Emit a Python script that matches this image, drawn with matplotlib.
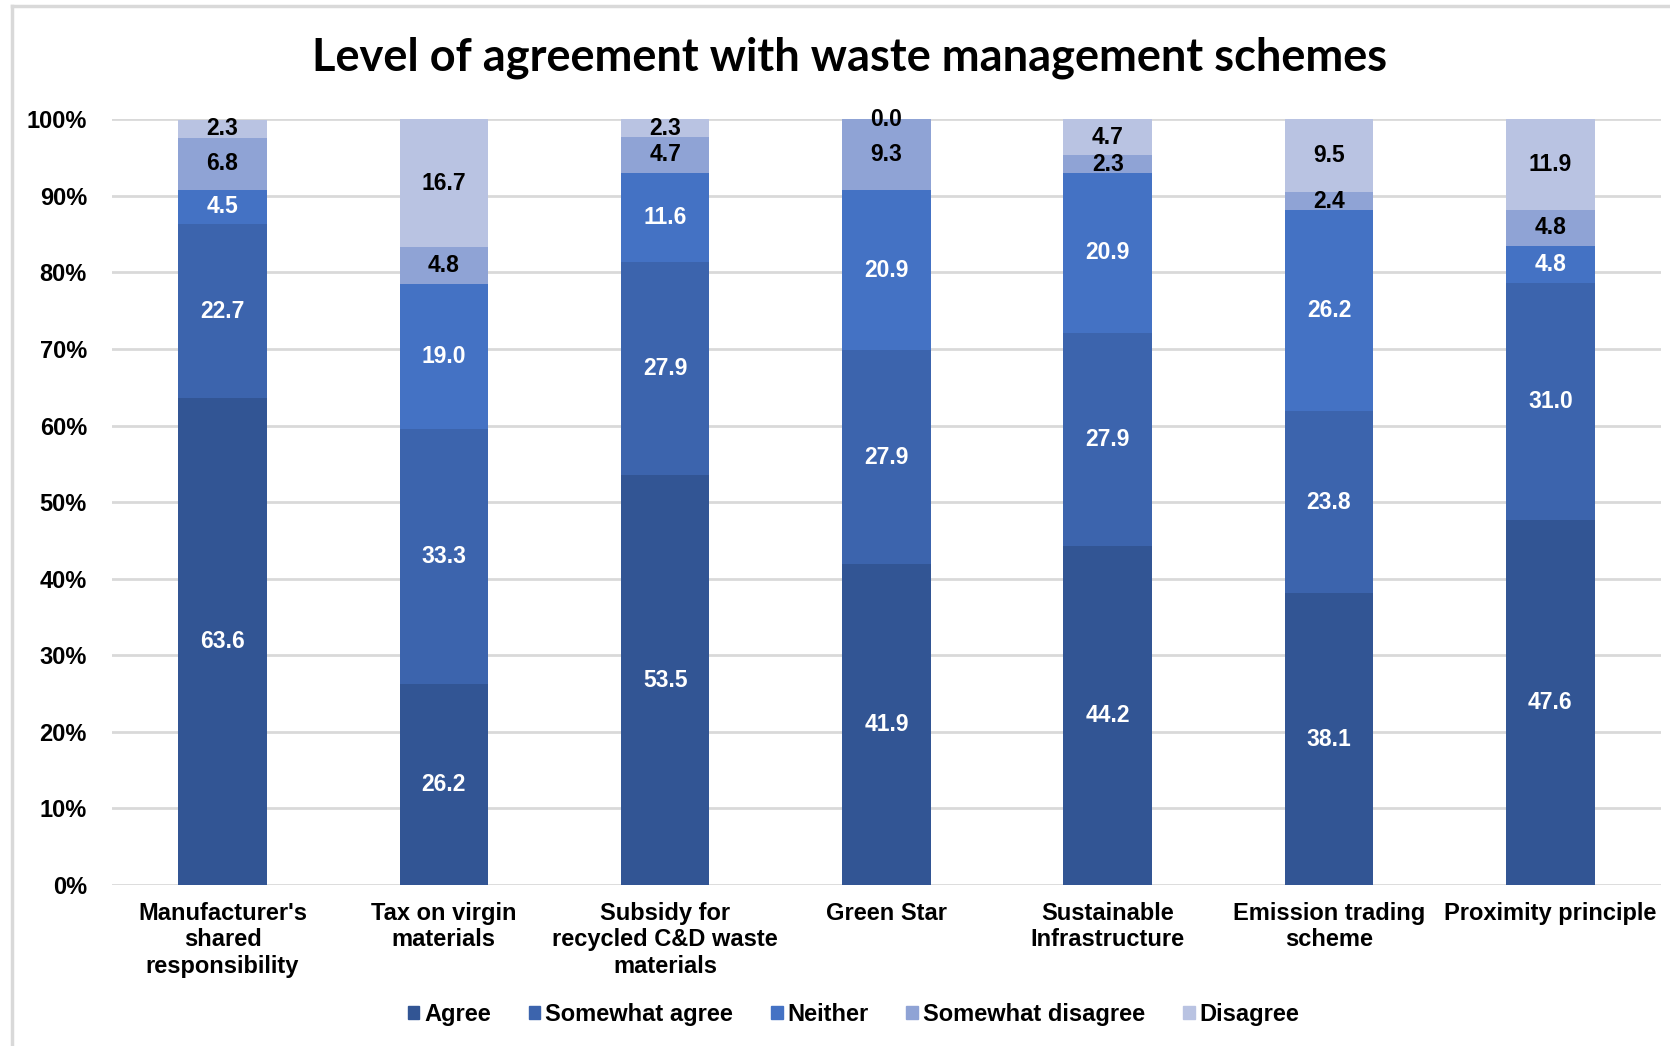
import numpy as np
import matplotlib.pyplot as plt
from matplotlib.lines import Line2D

categories = ["Manufacturer's\nshared\nresponsibility", "Tax on virgin\nmaterials",
              "Subsidy for\nrecycled C&D waste\nmaterials", "Green Star",
              "Sustainable\nInfrastructure", "Emission trading\nscheme", "Proximity principle"]
series = ["Agree", "Somewhat agree", "Neither", "Somewhat disagree", "Disagree"]

agree = [63.6, 26.2, 53.5, 41.9, 44.2, 38.1, 47.6]
somewhat_agree = [22.7, 33.3, 27.9, 27.9, 27.9, 23.8, 31.0]
neither = [4.5, 19.0, 11.6, 20.9, 20.9, 26.2, 4.8]
somewhat_disagree = [6.8, 4.8, 4.7, 9.3, 2.3, 2.4, 4.8]
disagree = [2.3, 16.7, 2.3, 0.0, 4.7, 9.5, 11.9]

colors = ["#325594", "#3C64AD", "#4472C4", "#8FA3D5", "#B9C3E2"]
label_colors = ["white", "white", "white", "black", "black"]

plt.rcParams['font.family'] = ['Liberation Sans', 'DejaVu Sans']

fig = plt.figure(figsize=(16.70, 10.46), dpi=100)
ax = fig.add_axes([0.067, 0.154, 0.9276, 0.732])

x = np.arange(len(categories))
data = [agree, somewhat_agree, neither, somewhat_disagree, disagree]
bottom = np.zeros(len(categories))
for vals, name, col, lc in zip(data, series, colors, label_colors):
    vals = np.array(vals)
    ax.bar(x, vals, 0.4, bottom=bottom, color=col, label=name, zorder=3)
    for xi, b, v in zip(x, bottom, vals):
        ax.text(xi, b + v / 2, f"{v:.1f}", ha='center', va='center',
                color=lc, fontsize=16.5, fontweight='bold', zorder=4)
    bottom += vals

ax.set_xlim(-0.5, len(categories) - 0.5)
ax.set_ylim(0, 100)
ax.set_yticks(np.arange(0, 101, 10))
ax.set_yticklabels([f"{v}%" for v in range(0, 101, 10)], fontsize=17, fontweight='bold')
ax.set_xticks(x)
ax.set_xticklabels(categories, fontsize=17, fontweight='bold', linespacing=1.2)
ax.tick_params(axis='y', length=0, pad=18)
ax.tick_params(axis='x', length=0, pad=12)
ax.grid(axis='y', color='#D9D9D9', linewidth=2, zorder=0)
for s in ax.spines.values():
    s.set_visible(False)

fig.text(0.509, 0.945, "Level of agreement with waste management schemes",
         ha='center', va='center', fontsize=32.5, fontweight='bold', family='Lato')

handles = [plt.Rectangle((0, 0), 1, 1, color=c) for c in colors]
fig.legend(handles, series, loc='center', bbox_to_anchor=(0.511, 0.03), ncol=5,
           frameon=False, prop={'size': 17, 'weight': 'bold'},
           handlelength=0.5, handleheight=0.5, handletextpad=0.2, columnspacing=1.6)

# outer chart border (top and left edges visible)
fig.add_artist(Line2D([12 / 1670, 1], [1 - 6 / 1046, 1 - 6 / 1046], color='#D9D9D9', lw=2.5))
fig.add_artist(Line2D([12 / 1670, 12 / 1670], [0, 1 - 6 / 1046], color='#D9D9D9', lw=2.5))

fig.savefig("out.png", dpi=100)
